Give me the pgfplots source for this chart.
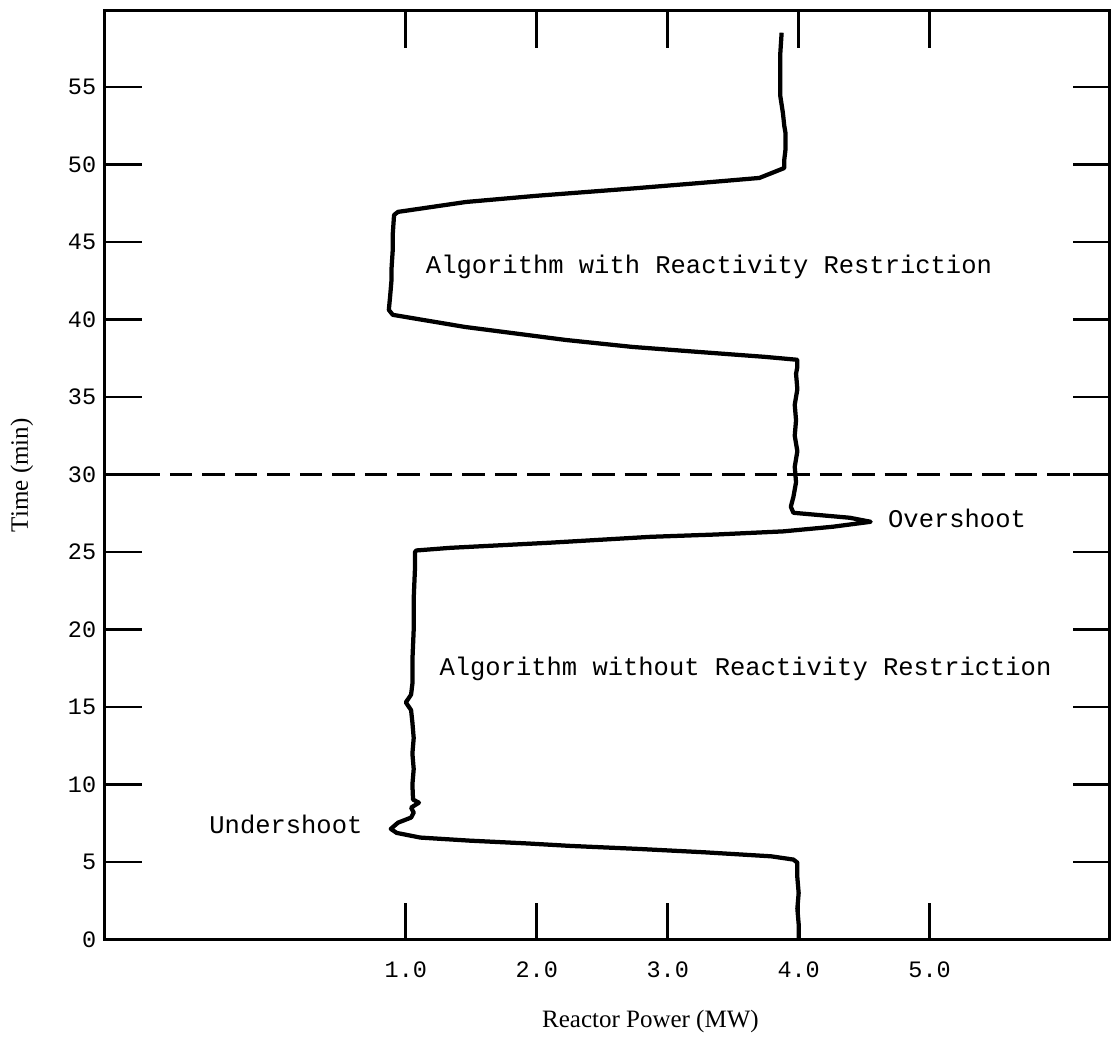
\documentclass[border=0pt]{standalone}
\usepackage{fontspec}
\setmainfont{Liberation Serif}
\setmonofont{Liberation Mono}
\usepackage{pgfplots}
\pgfplotsset{compat=1.18}

% power (MW) against time (min)
\newcommand{\trace}{
(4.00,0) (4.00,1) (3.99,2) (4.00,3) (3.99,4) (3.99,4.96)
(3.96,5.16) (3.79,5.37) (3.28,5.63) (2.77,5.85) (2.26,6.04) (1.93,6.2)
(1.49,6.38) (1.11,6.58) (0.93,6.88) (0.885,7.14) (0.94,7.54) (1.04,7.87)
(1.06,8.19) (1.04,8.51) (1.10,8.83) (1.055,9.03) (1.05,10) (1.06,11)
(1.05,12) (1.06,13) (1.05,14) (1.04,14.8) (1.00,15.3) (1.04,15.8)
(1.05,16.5) (1.05,18) (1.06,20) (1.06,22) (1.07,24) (1.07,25.0)
(1.08,25.1) (1.34,25.27) (2.10,25.6) (2.87,25.98) (3.37,26.13) (3.88,26.33)
(4.26,26.63) (4.55,26.95) (4.39,27.21) (3.96,27.53) (3.94,27.92) (3.96,28.56)
(3.98,29.5) (3.97,30.5) (3.99,31.5) (3.97,32.5) (3.98,33.5) (3.97,34.5)
(3.99,35.5) (3.98,36.5) (3.99,36.94) (3.99,37.4) (3.74,37.59) (3.23,37.91)
(2.73,38.23) (2.22,38.68) (1.45,39.52) (0.90,40.3) (0.87,40.62) (0.88,41.5)
(0.89,42.5) (0.89,43.2) (0.90,44.5) (0.90,45.5) (0.91,46.74) (0.94,46.94)
(1.46,47.58) (2.00,47.98) (2.73,48.45) (3.24,48.8) (3.70,49.13)
(3.89,49.77) (3.89,50.3) (3.90,51) (3.90,52) (3.89,52.5) (3.88,53.3)
(3.86,54.4) (3.86,55) (3.86,56) (3.86,57.2) (3.87,58.5)
}

\begin{document}
\begin{tikzpicture}
\begin{axis}[
    scale only axis,
    width=402pt, height=371.6pt,
    xmin=-1.298, xmax=6.374,
    ymin=0, ymax=59.9,
    axis line style={line width=1.2pt},
    xtick={1,2,3,4,5},
    xticklabels={1.0,2.0,3.0,4.0,5.0},
    ytick={0,5,...,55},
    tick style={line width=1.1pt, black},
    major tick length=14.8pt,
    tick align=inside,
    /pgf/number format/assume math mode=true,
    tick label style={font=\ttfamily\fontsize{9.4}{10}\selectfont},
    xticklabel style={yshift=-5.5pt},
    xlabel={Reactor Power (MW)},
    ylabel={Time (min)},
    xlabel style={at={(axis description cs:0.543,-0.0883)}, anchor=center},
    ylabel style={at={(axis description cs:-0.0826,0.5)}, anchor=center},
    clip=false,
]
\addplot[black, line width=1.7pt, line join=round] coordinates {\trace};
\addplot[black, line width=1pt, dash pattern=on 9pt off 4pt] coordinates {(-1.298,30) (6.374,30)};

\node[anchor=west, inner sep=0pt, font=\ttfamily\fontsize{10.2}{12}\selectfont]
    at (axis cs:1.15,43.4) {Algorithm with Reactivity Restriction};
\node[anchor=west, inner sep=0pt, font=\ttfamily\fontsize{10.2}{12}\selectfont]
    at (axis cs:1.254,17.47) {Algorithm without Reactivity Restriction};
\node[anchor=west, inner sep=0pt, font=\ttfamily\fontsize{10.2}{12}\selectfont]
    at (axis cs:4.68,27.14) {Overshoot};
\node[anchor=west, inner sep=0pt, font=\ttfamily\fontsize{10.2}{12}\selectfont]
    at (axis cs:-0.504,7.41) {Undershoot};
\end{axis}
\path (-42pt,-37.6pt) rectangle (402.4pt,376pt);
\end{tikzpicture}
\end{document}
